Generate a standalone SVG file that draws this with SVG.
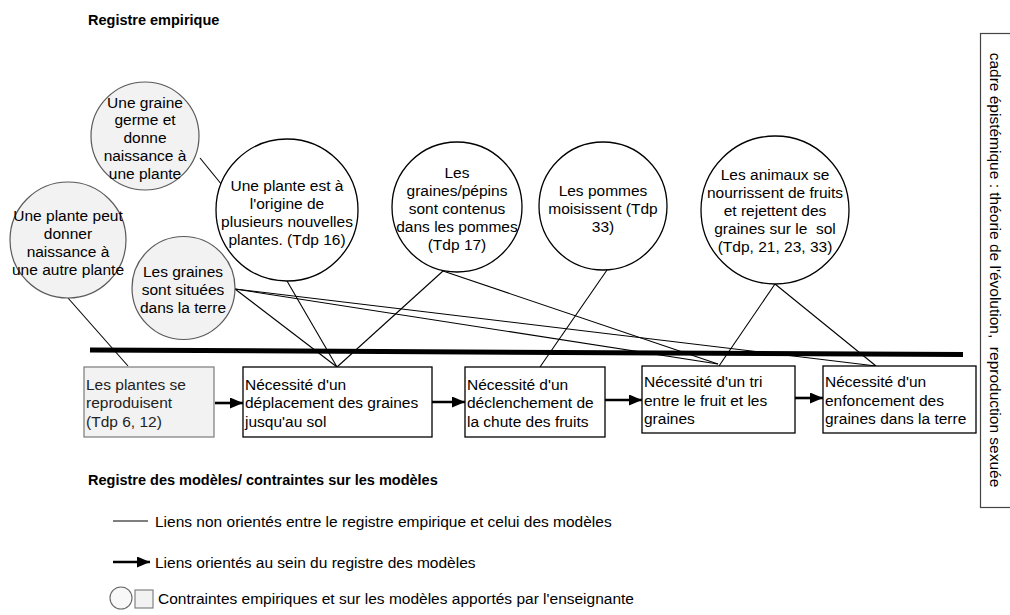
<svg xmlns="http://www.w3.org/2000/svg" width="1010" height="615" viewBox="0 0 1010 615">
<defs>
<style>
text{font-family:"Liberation Sans",Arial,sans-serif;font-size:15.5px;fill:#000}
.c{text-anchor:middle}
.p{white-space:pre}
.b{font-weight:bold;font-size:14.5px}
.gc{fill:#f2f2f2;stroke:#5a5a5a;stroke-width:1.2}
.wc{fill:#fff;stroke:#000;stroke-width:1.3}
.gb{fill:#f2f2f2;stroke:#7a7a7a;stroke-width:1.2}
.wb{fill:#fff;stroke:#000;stroke-width:1.3}
.ln{stroke:#000;stroke-width:1.1;fill:none}
.ar{stroke:#000;stroke-width:2.6;fill:none;marker-end:url(#arr)}
</style>
<marker id="arr" markerUnits="userSpaceOnUse" markerWidth="13" markerHeight="11" refX="13" refY="5.5" orient="auto"><path d="M0,0 L13,5.5 L0,11 z" fill="#000"/></marker>
</defs>
<rect width="1010" height="615" fill="#fff"/>
<text x="88" y="25" class="b">Registre empirique</text>

<g id="connectors">
<line class="ln" x1="200" y1="158" x2="222" y2="185"/>
<line class="ln" x1="68" y1="298" x2="128" y2="366"/>
<line class="ln" x1="235" y1="289" x2="337" y2="367"/>
<line class="ln" x1="287" y1="281" x2="337" y2="367"/>
<line class="ln" x1="443" y1="271" x2="337" y2="367"/>
<line class="ln" x1="235" y1="289" x2="718" y2="364"/>
<line class="ln" x1="235" y1="289" x2="876" y2="366"/>
<line class="ln" x1="443" y1="271" x2="718" y2="364"/>
<line class="ln" x1="607" y1="270" x2="540" y2="367"/>
<line class="ln" x1="775" y1="284" x2="719" y2="366"/>
<line class="ln" x1="775" y1="284" x2="876" y2="366"/>
<line x1="90" y1="350" x2="963" y2="354.5" stroke="#000" stroke-width="5"/>
<line class="ar" x1="215" y1="403" x2="243" y2="403"/>
<line class="ar" x1="432" y1="402" x2="465" y2="402"/>
<line class="ar" x1="605" y1="400" x2="642" y2="400"/>
<line class="ar" x1="795" y1="398" x2="823" y2="398"/>
</g>

<g id="n1"><circle class="gc" cx="145" cy="136" r="54"/>
<text class="c" x="145" y="107.5">Une graine</text><text class="c" x="145" y="125.3">germe et</text><text class="c" x="145" y="143.1">donne</text><text class="c" x="145" y="160.9">naissance à</text><text class="c" x="145" y="178.7">une plante</text></g>

<g id="n2"><circle class="gc" cx="68" cy="240" r="58"/>
<text class="c" x="68" y="220.5">Une plante peut</text><text class="c" x="68" y="238.5">donner</text><text class="c" x="68" y="257">naissance à</text><text class="c" x="68" y="275">une autre plante</text></g>

<g id="n3"><circle class="gc" cx="183.5" cy="288" r="51.5"/>
<text class="c" x="183" y="276.5">Les graines</text><text class="c" x="183" y="294.5">sont situées</text><text class="c" x="183" y="312.5">dans la terre</text></g>

<g id="n4"><circle class="wc" cx="287" cy="210" r="71"/>
<text class="c" x="287" y="190.5">Une plante est à</text><text class="c" x="287" y="208.5">l'origine de</text><text class="c" x="287" y="227">plusieurs nouvelles</text><text class="c" x="287" y="245">plantes. (Tdp 16)</text></g>

<g id="n5"><circle class="wc" cx="457" cy="207" r="65"/>
<text class="c" x="457" y="177.5">Les</text><text class="c" x="457" y="195.5">graines/pépins</text><text class="c" x="457" y="213.5">sont contenus</text><text class="c" x="457" y="232">dans les pommes</text><text class="c" x="457" y="250">(Tdp 17)</text></g>

<g id="n6"><circle class="wc" cx="603" cy="206" r="64"/>
<text class="c" x="603" y="195.5">Les pommes</text><text class="c" x="603" y="213.5">moisissent (Tdp</text><text class="c" x="603" y="231.5">33)</text></g>

<g id="n7"><circle class="wc" cx="775" cy="210" r="74"/>
<text class="c" x="775" y="179.5">Les animaux se</text><text class="c" x="775" y="197.5">nourrissent de fruits</text><text class="c" x="775" y="215.5">et rejettent des</text><text class="c p" x="775" y="233.5" xml:space="preserve">graines sur le  sol</text><text class="c" x="775" y="252">(Tdp, 21, 23, 33)</text></g>

<g id="b1"><rect class="gb" x="84" y="367" width="130" height="70"/>
<text x="86" y="389.5" style="fill:#222">Les plantes se</text><text x="86" y="408" style="fill:#222">reproduisent</text><text x="86" y="426.5" style="fill:#222">(Tdp 6, 12)</text></g>

<g id="b2"><rect class="wb" x="243" y="367" width="189" height="70"/>
<text x="245" y="389.5">Nécessité d'un</text><text x="245" y="408">déplacement des graines</text><text x="245" y="426.5">jusqu'au sol</text></g>

<g id="b3"><rect class="wb" x="465" y="367" width="140" height="70"/>
<text x="467" y="389.5">Nécessité d'un</text><text x="467" y="408">déclenchement de</text><text x="467" y="426.5">la chute des fruits</text></g>

<g id="b4"><rect class="wb" x="642" y="366" width="153" height="67"/>
<text x="644" y="387">Nécessité d'un tri</text><text x="644" y="405.5">entre le fruit et les</text><text x="644" y="424">graines</text></g>

<g id="b5"><rect class="wb" x="823" y="366" width="153" height="67"/>
<text x="825" y="387">Nécessité d'un</text><text x="825" y="405.5">enfoncement des</text><text x="825" y="424">graines dans la terre</text></g>

<g id="frame"><rect x="980.5" y="33.5" width="40" height="474" fill="#fff" stroke="#444" stroke-width="1.2"/>
<text class="c p" transform="translate(989.5,270) rotate(90)" x="0" y="0" xml:space="preserve">cadre épistémique : théorie de l'évolution,  reproduction sexuée</text></g>

<g id="legend">
<text x="88" y="485" class="b">Registre des modèles/ contraintes sur les modèles</text>
<line class="ln" x1="113" y1="521" x2="148" y2="521"/>
<text x="155" y="526.5">Liens non orientés entre le registre empirique et celui des modèles</text>
<line class="ar" x1="113" y1="562" x2="150" y2="562"/>
<text x="155" y="567.5">Liens orientés au sein du registre des modèles</text>
<circle cx="121" cy="598" r="11" fill="#f8f8f8" stroke="#666" stroke-width="1.1"/>
<rect x="135" y="590" width="18" height="18" fill="#f2f2f2" stroke="#777" stroke-width="1.1"/>
<text x="158" y="603.5">Contraintes empiriques et sur les modèles apportés par l'enseignante</text>
</g>
</svg>
